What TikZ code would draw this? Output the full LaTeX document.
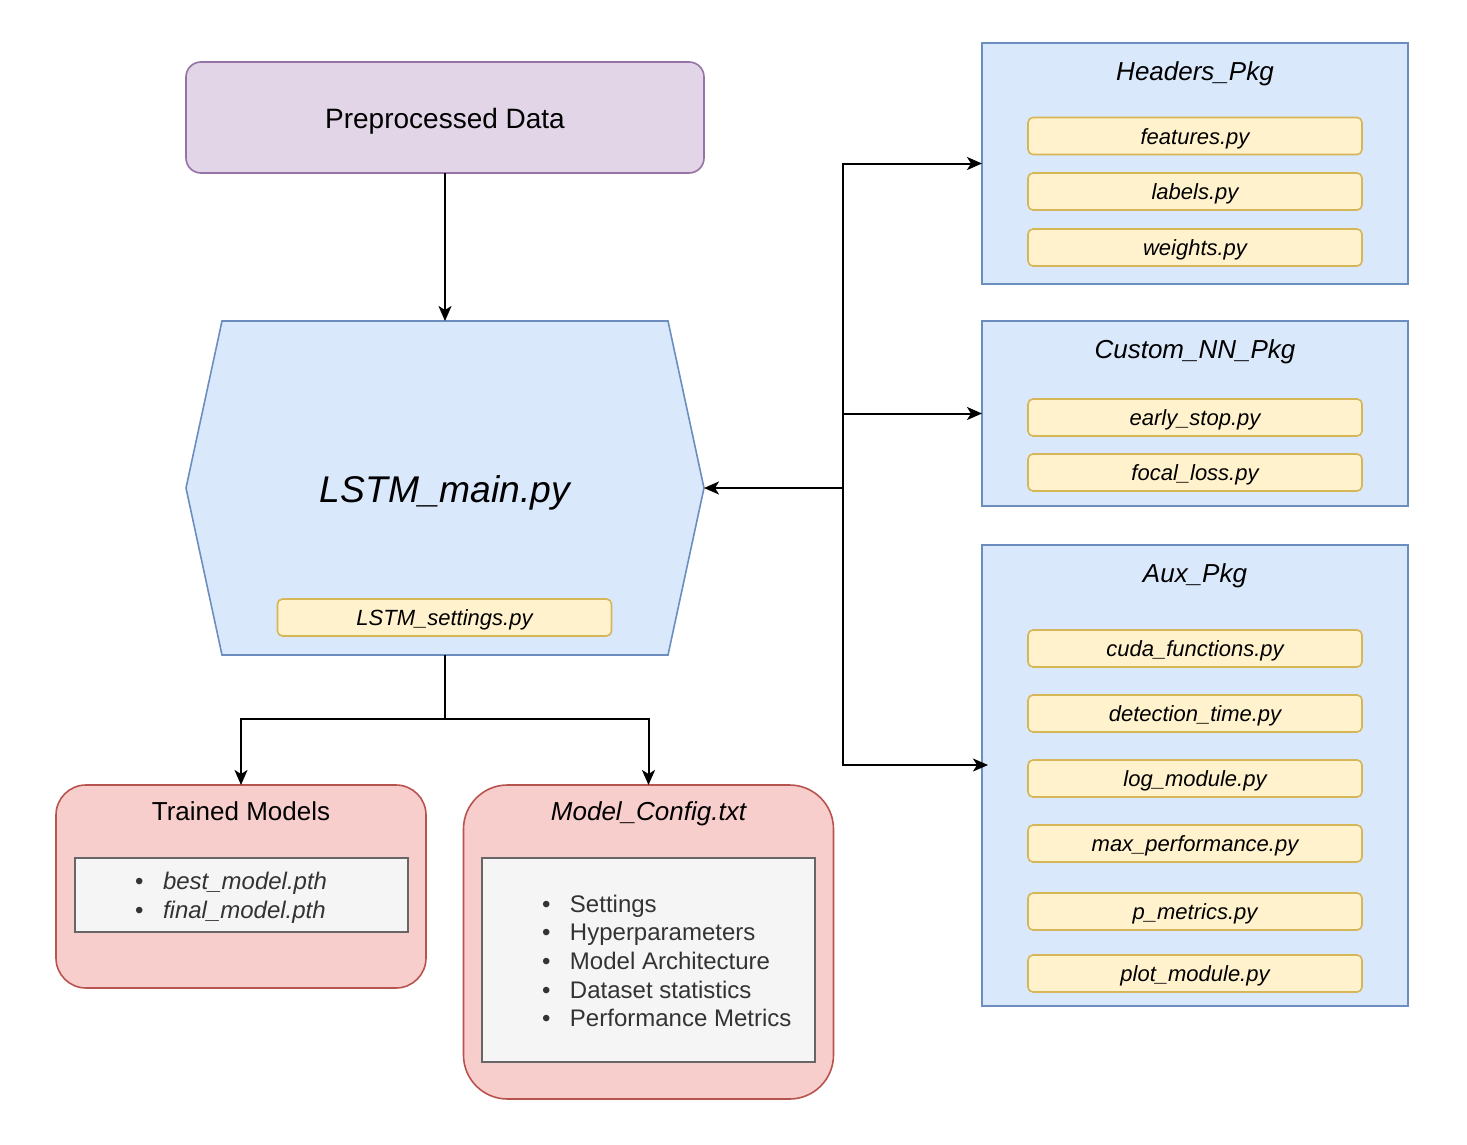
\documentclass[tikz,border=0pt]{standalone}
\usepackage{fontspec}
\setmainfont{Liberation Sans}
\usetikzlibrary{calc,positioning,arrows.meta,backgrounds}

\definecolor{prpfill}{HTML}{E1D5E7}
\definecolor{prpline}{HTML}{9673A6}
\definecolor{bluefill}{HTML}{DAE8FC}
\definecolor{blueline}{HTML}{6C8EBF}
\definecolor{yelfill}{HTML}{FFF2CC}
\definecolor{yelline}{HTML}{D6B656}
\definecolor{redfill}{HTML}{F8CECC}
\definecolor{redline}{HTML}{B85450}
\definecolor{grayfill}{HTML}{F5F5F5}
\definecolor{grayline}{HTML}{666666}
\definecolor{graytext}{HTML}{333333}

\newcommand{\itm}[1]{\makebox[14pt][l]{\textbullet}#1}

\tikzset{
  every node/.style={inner sep=0pt, outer sep=0pt},
  databox/.style={draw=prpline, fill=prpfill, line width=0.8pt, rounded corners=7.5pt,
    minimum width=259pt, minimum height=55.5pt, text height=14.3pt, text depth=3pt,
    font=\fontsize{14}{16.8}\selectfont},
  pkgbox/.style={draw=blueline, fill=bluefill, line width=0.8pt, minimum width=213pt},
  filebox/.style={draw=yelline, fill=yelfill, line width=0.8pt, rounded corners=2.5pt,
    minimum width=167pt, minimum height=18.5pt, text height=10.3pt, text depth=2pt,
    font=\fontsize{11}{13.2}\selectfont\itshape},
  outbox/.style={draw=redline, fill=redfill, line width=0.8pt, minimum width=185pt},
  listbox/.style={draw=grayline, fill=grayfill, line width=0.8pt, minimum width=166.5pt},
  listtext/.style={anchor=west, align=left, text=graytext, font=\fontsize{12}{14.3}\selectfont},
  boxtitle/.style={font=\fontsize{13}{15.6}\selectfont},
  arr/.style={-{Stealth[length=7.5pt,width=6.5pt,inset=2pt]}, line width=1pt},
  link/.style={line width=1pt},
}

\begin{document}
\begin{tikzpicture}[x=0.5pt, y=-0.5pt]
\useasboundingbox (0,0) rectangle (1467,1145);

% input and main script
\node[databox] (prep) at (445,117.5) {Preprocessed Data};
\node[minimum width=259pt, minimum height=167pt, text height=18.5pt, text depth=4pt,
  font=\fontsize{18.6}{22}\selectfont\itshape] (main) at (445,488) {LSTM\_main.py};
\begin{scope}[on background layer]
  \draw[draw=blueline, fill=bluefill, line width=0.8pt]
    ($(main.north west)+(36,0)$) -- ($(main.north east)+(-36,0)$) -- (main.east)
    -- ($(main.south east)+(-36,0)$) -- ($(main.south west)+(36,0)$) -- (main.west) -- cycle;
\end{scope}
\node[filebox] (settings) at (444.5,617.5) {LSTM\_settings.py};

% outputs
\node[outbox, minimum height=101.5pt, rounded corners=15pt] (trained) at (241,886.5) {};
\node[boxtitle] (trainedtitle) at (241,811) {Trained Models};
\node[listbox, minimum height=37pt] (trainedlist) at (241.5,895) {};
\node[listtext] (trainedtext) at (135,898)
  {\itm{\textit{best\_model.pth}}\\ \itm{\textit{final\_model.pth}}};

\node[outbox, minimum height=157pt, rounded corners=22pt] (config) at (648.5,942) {};
\node[boxtitle, font=\fontsize{13}{15.6}\selectfont\itshape] (configtitle) at (648.5,814) {Model\_Config.txt};
\node[listbox, minimum height=102pt] (configlist) at (648.5,960) {};
\node[listtext] (configtext) at (542,961)
  {\itm{Settings}\\ \itm{Hyperparameters}\\ \itm{Model Architecture}\\
   \itm{Dataset statistics}\\ \itm{Performance Metrics}};

% packages
\node[pkgbox, minimum height=120.5pt] (hdr) at (1195,163.5) {};
\node[boxtitle, font=\fontsize{13}{15.6}\selectfont\itshape] (hdrtitle) at (1195,74) {Headers\_Pkg};
\node[filebox] (features) at (1195,136) {features.py};
\node[filebox] (labels) at (1195,191.5) {labels.py};
\node[filebox] (weights) at (1195,247.5) {weights.py};

\node[pkgbox, minimum height=92.5pt] (cnn) at (1195,413.5) {};
\node[boxtitle, font=\fontsize{13}{15.6}\selectfont\itshape] (cnntitle) at (1195,352) {Custom\_NN\_Pkg};
\node[filebox] (earlystop) at (1195,417.5) {early\_stop.py};
\node[filebox] (focalloss) at (1195,472.5) {focal\_loss.py};

\node[pkgbox, minimum height=230.5pt] (aux) at (1195,775.5) {};
\node[boxtitle, font=\fontsize{13}{15.6}\selectfont\itshape] (auxtitle) at (1195,576) {Aux\_Pkg};
\node[filebox] (cuda) at (1195,648.5) {cuda\_functions.py};
\node[filebox] (dettime) at (1195,713.5) {detection\_time.py};
\node[filebox] (logmod) at (1195,778.5) {log\_module.py};
\node[filebox] (maxperf) at (1195,843.5) {max\_performance.py};
\node[filebox] (pmetrics) at (1195,911.5) {p\_metrics.py};
\node[filebox] (plotmod) at (1195,973.5) {plot\_module.py};

% connectors
\draw[arr] (prep.south) -- (main.north);
\draw[link] (main.south) -- ++(0,64) coordinate (split);
\draw[arr] (split) -| (trained.north);
\draw[arr] (split) -| (config.north);

\coordinate (jct) at (843,488);
\draw[arr] (jct) -- (main.east);
\draw[arr] (jct) |- (hdr.west);
\draw[arr] (jct) |- (cnn.west);
\draw[arr] (jct) |- ($(aux.west)+(6,-10.5)$);
\end{tikzpicture}
\end{document}
